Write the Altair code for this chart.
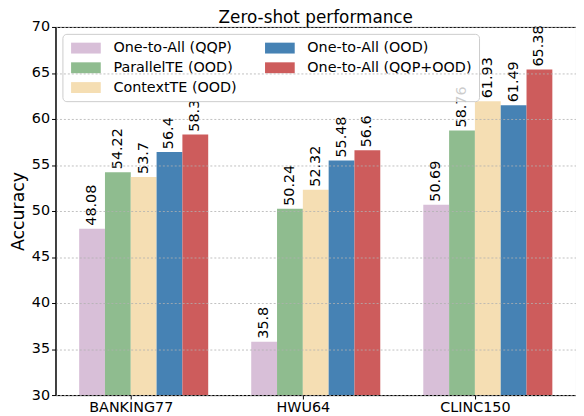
import altair as alt
import pandas as pd

datasets = ["BANKING77", "HWU64", "CLINC150"]
series = ["One-to-All (QQP)", "ParallelTE (OOD)", "ContextTE (OOD)", "One-to-All (OOD)", "One-to-All (QQP+OOD)"]
colors = ["#D8BFD8", "#8FBC8F", "#F5DEB3", "#4682B4", "#CD5C5C"]
qqp = [48.08, 35.8, 50.69]
parallel_ood = [54.22, 50.24, 58.76]
context_ood = [53.7, 52.32, 61.93]
ota_ood = [56.4, 55.48, 61.49]
ota_qqp_ood = [58.3, 56.6, 65.38]
y_ticks = [30, 35, 40, 45, 50, 55, 60, 65, 70]

values = [qqp, parallel_ood, context_ood, ota_ood, ota_qqp_ood]
rows = []
for si, (name, vals) in enumerate(zip(series, values)):
    for gi, (ds, v) in enumerate(zip(datasets, vals)):
        rows.append({"dataset": ds, "gi": gi, "series": name, "si": si,
                     "value": v, "label": str(v)})
df = pd.DataFrame(rows)

label_expr = " : ".join(
    [f"datum.value == {i} ? '{d}'" for i, d in enumerate(datasets)]) + " : ''"

base = alt.Chart(df).transform_calculate(
    x0="datum.gi + (datum.si - 2) * 0.15",
    x1="datum.gi + (datum.si - 1) * 0.15",
    xc="datum.gi + (datum.si - 1.5) * 0.15",
)

xscale = alt.Scale(domain=[-0.4375, 2.5875], nice=False, zero=False)
yscale = alt.Scale(domain=[30, 70], nice=False, zero=False)

FS = 14.5

bars = base.mark_bar(opacity=1).encode(
    x=alt.X("x0:Q", scale=xscale,
            axis=alt.Axis(values=[0, 1, 2], labelExpr=label_expr, title=None,
                          grid=False, tickSize=4, labelPadding=2,
                          labelFontSize=FS, domainColor="black",
                          tickColor="black", labelColor="black")),
    x2="x1:Q",
    y=alt.Y("value:Q", scale=yscale,
            axis=alt.Axis(values=y_ticks, title="Accuracy", titleFontSize=17.5,
                          titleFontWeight="normal", titlePadding=4,
                          labelFontSize=FS, tickSize=4, labelPadding=2,
                          grid=True, gridDash=[2, 2], gridColor="#b0b0b0",
                          gridOpacity=0.8, domainColor="black",
                          tickColor="black", labelColor="black",
                          titleColor="black", zindex=1)),
    y2=alt.datum(30),
    color=alt.Color("series:N",
                    scale=alt.Scale(domain=series, range=colors),
                    legend=alt.Legend(
                        title=None, orient="none", legendX=7, legendY=7,
                        columns=2, columnPadding=26, rowPadding=5,
                        symbolType="M-1,-1H4.4545V1H-1Z", symbolSize=121,
                        symbolStrokeWidth=0, symbolOpacity=1,
                        labelFontSize=FS, labelOffset=30, labelColor="black",
                        labelLimit=400,
                        fillColor="rgba(255,255,255,0.8)", strokeColor="#cccccc",
                        cornerRadius=4, padding=7)),
)

texts = base.mark_text(angle=270, align="left", baseline="middle",
                       dx=3, fontSize=FS, color="black").encode(
    x=alt.X("xc:Q", scale=xscale),
    y=alt.Y("value:Q", scale=yscale),
    text="label:N",
)

chart = alt.layer(bars, texts).properties(
    width=526, height=372,
    title=alt.Title("Zero-shot performance", fontSize=17, fontWeight="normal",
                    color="black", offset=5, dy=13),
    autosize=alt.AutoSizeParams(type="none"),
    padding={"left": 48, "top": 17, "right": 0, "bottom": 17},
).configure(font="DejaVu Sans").configure_view(stroke="black", strokeWidth=1)

chart.save("out.html", embed_options={"renderer": "svg", "actions": False})
